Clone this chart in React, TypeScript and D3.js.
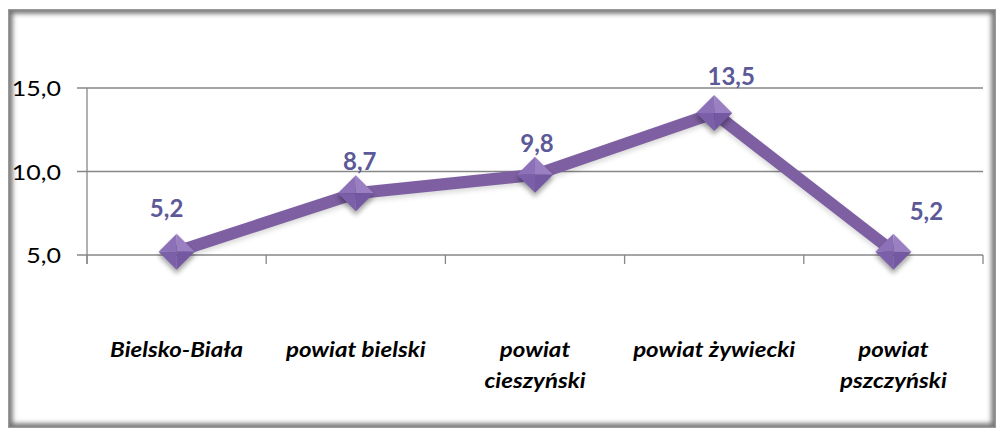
import React from "react";
import * as d3 from "d3";

const categories: string[][] = [
  ["Bielsko-Biała"],
  ["powiat bielski"],
  ["powiat", "cieszyński"],
  ["powiat żywiecki"],
  ["powiat", "pszczyński"],
];
const values: number[] = [5.2, 8.7, 9.8, 13.5, 5.2];
const yTicks: number[] = [5, 10, 15];
// manual label nudges (dx, dy relative to point), as in the source chart
const labelOffsets: [number, number][] = [
  [-10, -35],
  [4, -23],
  [2, -23],
  [17, -28],
  [33, -32],
];

const W = 1003;
const H = 432;
const fmt = (v: number) => v.toFixed(1).replace(".", ",");

export default function App() {
  const keys = categories.map((c) => c.join(" "));
  const x = d3.scaleBand<string>().domain(keys).range([87, 983]).padding(0);
  const y = d3.scaleLinear().domain([5, 15]).range([255, 88]);
  const cx = (i: number) => (x(keys[i]) as number) + x.bandwidth() / 2;
  const line = d3
    .line<number>()
    .x((_, i) => cx(i))
    .y((d) => y(d));
  const bounds = [...keys.map((k) => x(k) as number), 983];
  const r = 18;
  const font = "Lato, 'Open Sans', sans-serif";

  return (
    <svg
      width={W}
      height={H}
      style={{ position: "absolute", left: 0, top: 0, background: "#fff" }}
    >
      <defs>
        <clipPath id="frameClip">
          <rect x={9} y={10} width={986} height={417} />
        </clipPath>
        <filter id="blur3" x="-10%" y="-10%" width="120%" height="120%">
          <feGaussianBlur stdDeviation={2.5} />
        </filter>
        <filter id="mshadow" x="-50%" y="-50%" width="200%" height="200%">
          <feGaussianBlur stdDeviation={2.5} />
        </filter>
      </defs>
      {/* frame with inner shadow */}
      <rect x={0} y={0} width={W} height={H} fill="#fff" />
      <g clipPath="url(#frameClip)">
        <rect x={9} y={10} width={986} height={417} fill="#fff" />
        <rect
          x={9}
          y={10}
          width={986}
          height={417}
          fill="none"
          stroke="#6f6f6f"
          strokeWidth={7}
          filter="url(#blur3)"
        />
      </g>
      <rect x={8.5} y={9.5} width={987} height={418} fill="none" stroke="#9a9a9a" strokeWidth={1} />

      {/* gridlines */}
      {yTicks.map((t) => (
        <line key={"g" + t} x1={77} x2={983} y1={y(t)} y2={y(t)} stroke="#878787" strokeWidth={1.3} />
      ))}
      {/* y axis */}
      <line x1={87} x2={87} y1={y(15)} y2={264} stroke="#878787" strokeWidth={1.3} />
      {/* x ticks */}
      {bounds.map((b, i) => (
        <line key={"xt" + i} x1={b} x2={b} y1={y(5)} y2={264} stroke="#878787" strokeWidth={1.3} />
      ))}
      {/* y labels */}
      {yTicks.map((t) => (
        <g key={"yl" + t} transform={`translate(61,${y(t)}) scale(1.22,1)`}>
          <text
            textAnchor="end"
            dominantBaseline="central"
            fontFamily={font}
            fontSize={20.5}
            fill="#000"
          >
            {fmt(t)}
          </text>
        </g>
      ))}
      {/* category labels */}
      {categories.map((lines, i) =>
        lines.map((ln, j) => (
          <g key={"c" + i + "-" + j} transform={`translate(${cx(i)},${357 + j * 30.5}) scale(1.12,1)`}>
            <text
              textAnchor="middle"
              fontFamily={font}
              fontSize={21.5}
              fontWeight="bold"
              fontStyle="italic"
              fill="#000"
            >
              {ln}
            </text>
          </g>
        ))
      )}
      {/* line shadow */}
      <path
        d={line(values) as string}
        fill="none"
        stroke="#000"
        strokeOpacity={0.15}
        strokeWidth={12}
        transform="translate(0,3)"
        filter="url(#mshadow)"
      />
      <path d={line(values) as string} fill="none" stroke="#7d5fa2" strokeWidth={12} strokeLinejoin="round" />
      {/* markers */}
      {values.map((v, i) => {
        const px = cx(i);
        const py = y(v);
        return (
          <g key={"m" + i}>
            <path
              d={`M${px},${py - r + 4}L${px + r},${py + 4}L${px},${py + r + 4}L${px - r},${py + 4}Z`}
              fill="#000"
              opacity={0.35}
              filter="url(#mshadow)"
            />
            <path d={`M${px},${py - r}L${px + r},${py}L${px},${py}Z`} fill="#9a80c2" />
            <path d={`M${px},${py - r}L${px - r},${py}L${px},${py}Z`} fill="#8d71b8" />
            <path d={`M${px - r},${py}L${px},${py + r}L${px},${py}Z`} fill="#7c5fa9" />
            <path d={`M${px + r},${py}L${px},${py + r}L${px},${py}Z`} fill="#7458a1" />
          </g>
        );
      })}
      {/* data labels */}
      {values.map((v, i) => (
        <text
          key={"dl" + i}
          x={cx(i) + labelOffsets[i][0]}
          y={y(v) + labelOffsets[i][1]}
          textAnchor="middle"
          fontFamily={font}
          fontSize={24}
          fontWeight="bold"
          fill="#5c5998"
        >
          {fmt(v)}
        </text>
      ))}
    </svg>
  );
}
